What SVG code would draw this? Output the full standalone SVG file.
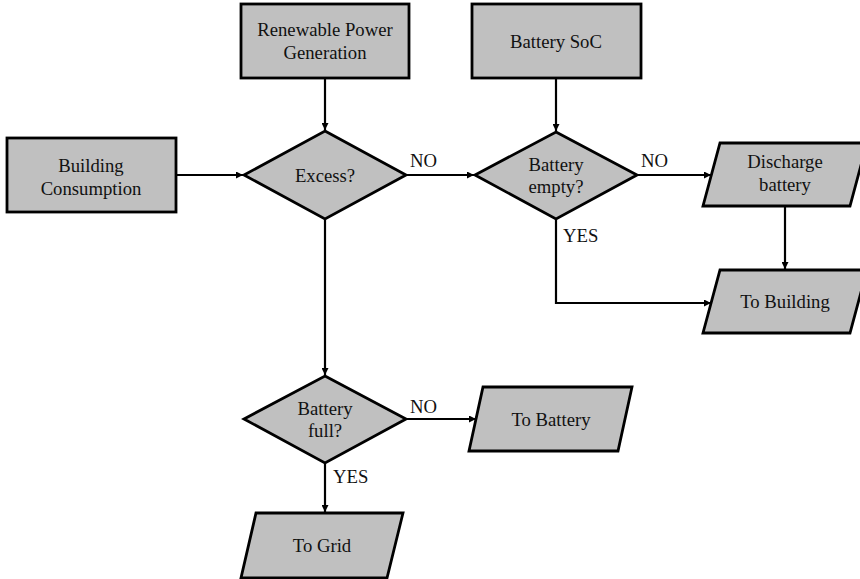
<svg xmlns="http://www.w3.org/2000/svg" width="860" height="579" viewBox="0 0 860 579">
<defs>
<style>
.shape{fill:#c0c0c0;stroke:#000;stroke-width:2.8;stroke-linejoin:miter}
text{font-family:'Liberation Serif','Times New Roman','DejaVu Serif',serif;font-size:18.7px;fill:#111}
.t{text-anchor:middle}
.c{fill:none;stroke:#000;stroke-width:2.2}
</style>
<marker id="ah" viewBox="0 0 10 10" refX="10" refY="5" markerWidth="9" markerHeight="7" markerUnits="userSpaceOnUse" orient="auto">
<path d="M0,0 L10,5 L0,10 z" fill="#000"/>
</marker>
</defs>
<rect width="860" height="579" fill="#fff"/>
<g id="connectors">
<path class="c" d="M325,78 V130" marker-end="url(#ah)"/>
<path class="c" d="M176,175 H243" marker-end="url(#ah)"/>
<path class="c" d="M406,175 H474" marker-end="url(#ah)"/>
<path class="c" d="M556,78 V131" marker-end="url(#ah)"/>
<path class="c" d="M637,175 H711" marker-end="url(#ah)"/>
<path class="c" d="M785,206 V269" marker-end="url(#ah)"/>
<path class="c" d="M556,219 V303 H711" marker-end="url(#ah)"/>
<path class="c" d="M325,219 V375" marker-end="url(#ah)"/>
<path class="c" d="M406,419 H476" marker-end="url(#ah)"/>
<path class="c" d="M325,463 V512" marker-end="url(#ah)"/>
<text x="410" y="167" font-family="Liberation Serif, serif">NO</text>
<text x="641" y="167" font-family="Liberation Serif, serif">NO</text>
<text x="563" y="242" font-family="Liberation Serif, serif">YES</text>
<text x="410" y="413" font-family="Liberation Serif, serif">NO</text>
<text x="333" y="483" font-family="Liberation Serif, serif">YES</text>
</g>
<g id="renewable">
<rect class="shape" x="241" y="4" width="168" height="74"/>
<text class="t" x="325" y="36">Renewable Power</text>
<text class="t" x="325" y="59">Generation</text>
</g>
<g id="battery-soc">
<rect class="shape" x="472" y="4" width="169" height="74"/>
<text class="t" x="556" y="48">Battery SoC</text>
</g>
<g id="building-consumption">
<rect class="shape" x="7" y="138" width="169" height="74"/>
<text class="t" x="91" y="172">Building</text>
<text class="t" x="91" y="195">Consumption</text>
</g>
<g id="excess">
<polygon class="shape" points="325,131 406,175 325,219 244,175"/>
<text class="t" x="325" y="182">Excess?</text>
</g>
<g id="battery-empty">
<polygon class="shape" points="556,132 637,175 556,219 475,175"/>
<text class="t" x="556" y="171">Battery</text>
<text class="t" x="556" y="193">empty?</text>
</g>
<g id="discharge-battery">
<polygon class="shape" points="720,143 867,143 850,206 703,206"/>
<text class="t" x="785" y="168">Discharge</text>
<text class="t" x="785" y="191">battery</text>
</g>
<g id="to-building">
<polygon class="shape" points="720,270 867,270 850,333 703,333"/>
<text class="t" x="785" y="308">To Building</text>
</g>
<g id="battery-full">
<polygon class="shape" points="325,376 406,419 325,463 244,419"/>
<text class="t" x="325" y="415">Battery</text>
<text class="t" x="325" y="437">full?</text>
</g>
<g id="to-battery">
<polygon class="shape" points="483,387 632,387 618,451 469,451"/>
<text class="t" x="551" y="426">To Battery</text>
</g>
<g id="to-grid">
<polygon class="shape" points="256,513 403,513 387,578 241,578"/>
<text class="t" x="322" y="552">To Grid</text>
</g>
</svg>
